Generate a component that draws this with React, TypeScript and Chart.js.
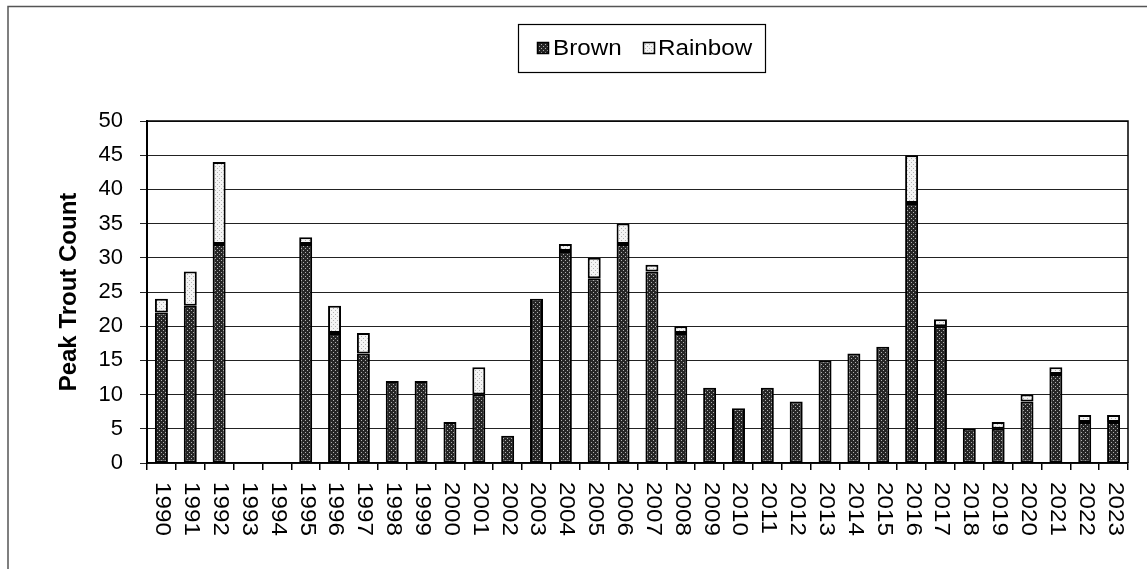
import React, { useEffect, useRef } from "react";
import { Chart, registerables } from "chart.js";

Chart.register(...registerables);

const years: string[] = [
  "1990", "1991", "1992", "1993", "1994", "1995", "1996", "1997", "1998", "1999",
  "2000", "2001", "2002", "2003", "2004", "2005", "2006", "2007", "2008", "2009",
  "2010", "2011", "2012", "2013", "2014", "2015", "2016", "2017", "2018", "2019",
  "2020", "2021", "2022", "2023",
];
const brown: number[] = [
  22, 23, 32, 0, 0, 32, 19, 16, 12, 12,
  6, 10, 4, 24, 31, 27, 32, 28, 19, 11,
  8, 11, 9, 15, 16, 17, 38, 20, 5, 5,
  9, 13, 6, 6,
];
const rainbow: number[] = [
  2, 5, 12, 0, 0, 1, 4, 3, 0, 0,
  0, 4, 0, 0, 1, 3, 3, 1, 1, 0,
  0, 0, 0, 0, 0, 0, 7, 1, 0, 1,
  1, 1, 1, 1,
];
const seriesNames: string[] = ["Brown", "Rainbow"];
const yMax = 50;
const yStep = 5;
const yTitle = "Peak Trout Count";

const FONT = "'Liberation Sans', Arial, sans-serif";

function makePattern(ctx: CanvasRenderingContext2D, bg: string, dot: string) {
  const c = document.createElement("canvas");
  c.width = 4;
  c.height = 4;
  const g = c.getContext("2d")!;
  g.fillStyle = bg;
  g.fillRect(0, 0, 4, 4);
  g.fillStyle = dot;
  g.fillRect(1, 0, 1, 1);
  g.fillRect(3, 2, 1, 1);
  return ctx.createPattern(c, "repeat")!;
}

export default function App() {
  const ref = useRef<HTMLCanvasElement>(null);

  useEffect(() => {
    const canvas = ref.current!;
    const ctx = canvas.getContext("2d")!;
    const brownFill = makePattern(ctx, "#262626", "#b0b0b0");
    const rainbowFill = makePattern(ctx, "#f4f4f4", "#b4b4b4");
    const fills = [brownFill, rainbowFill];

    const decor = {
      id: "decor",
      afterDraw(chart: any) {
        const c = chart.ctx as CanvasRenderingContext2D;
        const area = chart.chartArea;
        const xs = chart.scales.x;
        c.save();
        // outer frame
        c.strokeStyle = "#555";
        c.lineWidth = 1.5;
        c.beginPath();
        c.moveTo(8, 569);
        c.lineTo(8, 6.5);
        c.lineTo(1147, 6.5);
        c.stroke();
        // plot area top/right borders
        c.strokeStyle = "#000";
        c.lineWidth = 1.5;
        c.beginPath();
        c.moveTo(area.left, area.top);
        c.lineTo(area.right, area.top);
        c.lineTo(area.right, area.bottom);
        c.stroke();
        // x labels rotated clockwise
        c.fillStyle = "#000";
        c.font = `22px ${FONT}`;
        c.textAlign = "left";
        c.textBaseline = "middle";
        years.forEach((lab, i) => {
          const x = xs.getPixelForValue(i);
          c.save();
          c.translate(x + 1, area.bottom + 19);
          c.rotate(Math.PI / 2);
          c.scale(1.1, 1);
          c.fillText(lab, 0, 0);
          c.restore();
        });
        // legend
        c.strokeStyle = "#000";
        c.lineWidth = 1.2;
        c.strokeRect(518.5, 24.5, 247, 48);
        const items = [
          { sx: 537, tx: 553 },
          { sx: 643, tx: 658 },
        ];
        c.font = `22px ${FONT}`;
        items.forEach((it, i) => {
          c.fillStyle = fills[i];
          c.fillRect(it.sx, 42, 12, 12);
          c.strokeStyle = "#000";
          c.lineWidth = 1.5;
          c.strokeRect(it.sx + 0.5, 42.5, 11, 11);
          c.fillStyle = "#000";
          c.save();
          c.translate(it.tx, 49);
          c.scale(1.1, 1);
          c.fillText(seriesNames[i], 0, 0);
          c.restore();
        });
        c.restore();
      },
    };

    const chart = new Chart(canvas, {
      type: "bar",
      data: {
        labels: years,
        datasets: [
          {
            label: seriesNames[0],
            data: brown,
            backgroundColor: brownFill as any,
            borderColor: "#000",
            borderWidth: 2,
            borderSkipped: false,
            barPercentage: 0.45,
            categoryPercentage: 1,
          },
          {
            label: seriesNames[1],
            data: rainbow,
            backgroundColor: rainbowFill as any,
            borderColor: "#000",
            borderWidth: 2,
            borderSkipped: false,
            barPercentage: 0.45,
            categoryPercentage: 1,
          },
        ],
      },
      options: {
        responsive: false,
        animation: false,
        devicePixelRatio: 1,
        layout: { padding: { left: 55, top: 121, right: 19, bottom: 0 } },
        plugins: {
          legend: { display: false },
          title: { display: false },
          tooltip: { enabled: false },
        },
        scales: {
          x: {
            stacked: true,
            offset: true,
            grid: {
              offset: true,
              drawOnChartArea: false,
              drawTicks: true,
              tickLength: 7,
              color: "#000",
              lineWidth: 1.5,
            },
            border: { display: true, color: "#000", width: 1.5 },
            ticks: { display: false },
            afterFit: (s: any) => {
              s.height = 106;
            },
          },
          y: {
            stacked: true,
            min: 0,
            max: yMax,
            ticks: {
              stepSize: yStep,
              color: "#000",
              font: { family: FONT, size: 22 },
              padding: 17,
            },
            grid: {
              color: "#222",
              lineWidth: 1,
              drawTicks: true,
              tickLength: 7,
            },
            border: { display: true, color: "#000", width: 2 },
            title: {
              display: true,
              text: yTitle,
              color: "#000",
              font: { family: FONT, size: 24, weight: "bold" },
              padding: 0,
            },
            afterFit: (s: any) => {
              s.width = 92;
            },
          },
        },
      },
      plugins: [decor],
    });
    return () => chart.destroy();
  }, []);

  return (
    <div style={{ position: "absolute", left: 0, top: 0, width: 1147, height: 569, background: "#fff" }}>
      <canvas ref={ref} width={1147} height={569} style={{ display: "block" }} />
    </div>
  );
}
